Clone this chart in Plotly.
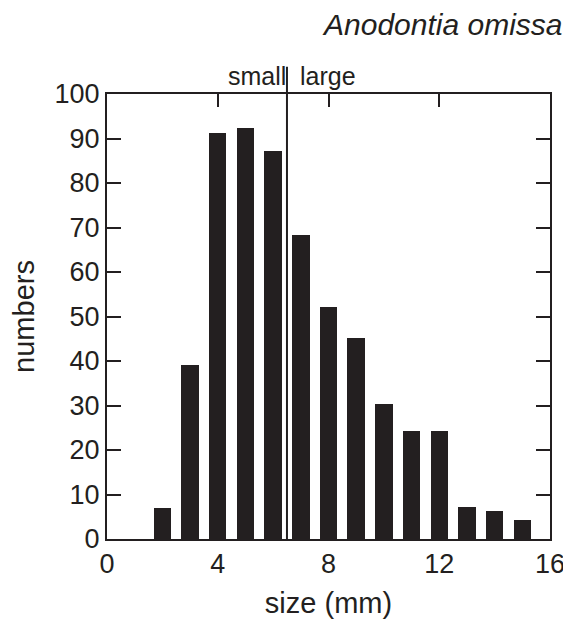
"""Size-frequency histogram for Anodontia omissa."""

import plotly.graph_objects as go

INK = "#231f20"
FONT = "Liberation Sans, Arial, sans-serif"

# data
size_mm = [2, 3, 4, 5, 6, 7, 8, 9, 10, 11, 12, 13, 14, 15]
counts = [7, 39, 91.3, 92.3, 87.3, 68.3, 52.1, 45.2, 30.3, 24.3, 24.3, 7.1, 6.4, 4.3]
x_ticks = [0, 4, 8, 12, 16]
y_ticks = [0, 10, 20, 30, 40, 50, 60, 70, 80, 90, 100]
top_ticks = [4, 8, 12]
split_at = 6.5  # boundary between the "small" and "large" classes

fig = go.Figure()
fig.add_trace(go.Bar(x=size_mm, y=counts, width=0.63,
                     marker=dict(color=INK, line=dict(width=0)),
                     showlegend=False, xaxis="x", yaxis="y"))
# invisible trace to anchor the top axis that only carries tick marks
fig.add_trace(go.Scatter(x=[0], y=[0], mode="markers", marker=dict(opacity=0),
                         showlegend=False, hoverinfo="skip", xaxis="x2", yaxis="y"))

fig.add_shape(type="line", xref="x", yref="paper", x0=split_at, x1=split_at,
              y0=0, y1=1.061, line=dict(color=INK, width=2))
fig.add_annotation(text="small", xref="x", yref="paper", x=split_at, y=1.04,
                   xanchor="right", yanchor="middle", xshift=1, showarrow=False,
                   font=dict(family=FONT, size=25, color=INK))
fig.add_annotation(text="large", xref="x", yref="paper", x=split_at, y=1.04,
                   xanchor="left", yanchor="middle", xshift=11, showarrow=False,
                   font=dict(family=FONT, size=25, color=INK))
fig.add_annotation(text="<i>Anodontia omissa</i>", xref="paper", yref="paper",
                   x=1.031, y=1.157, xanchor="right", yanchor="middle", showarrow=False,
                   font=dict(family=FONT, size=30, color=INK))

# the page body adds an 8px margin, so the figure is offset to sit inside it
fig.update_layout(
    width=563, height=611,
    margin=dict(l=99, r=21, t=86, b=80, autoexpand=False),
    paper_bgcolor="white", plot_bgcolor="white",
    font=dict(family=FONT, size=27, color=INK),
    bargap=0,
    xaxis=dict(range=[0, 16], tickvals=x_ticks, ticks="", showgrid=False, zeroline=False,
               showline=True, mirror=True, linecolor=INK, linewidth=2, automargin=False,
               tickfont=dict(size=27), title=dict(text="size (mm)", font=dict(size=29),
                                                  standoff=14)),
    xaxis2=dict(range=[0, 16], overlaying="x", side="top", tickvals=top_ticks,
                ticks="inside", ticklen=13, tickwidth=2, tickcolor=INK, automargin=False,
                showticklabels=False, showgrid=False, zeroline=False, showline=False),
    yaxis=dict(range=[0, 100], tickvals=y_ticks, ticks="inside", ticklen=14, tickwidth=2,
               tickcolor=INK, showgrid=False, zeroline=False, showline=True, automargin=False,
               mirror="ticks", linecolor=INK, linewidth=2, tickfont=dict(size=27),
               title=dict(text="numbers", font=dict(size=29), standoff=18)),
)

fig.write_html("out.html")
